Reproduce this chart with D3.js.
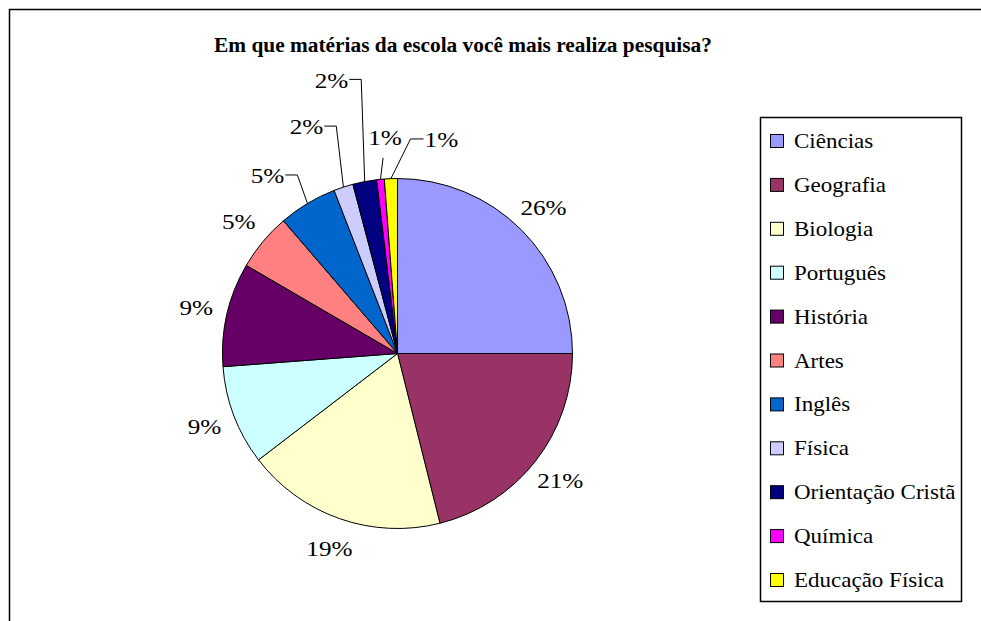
<!DOCTYPE html>
<html>
  <head>
    <meta charset="utf-8">
    <title>Pesquisa por materia</title>
    <script src="https://d3js.org/d3.v7.min.js"></script>
  </head>
  <body style="margin:0">
    <script type="text/javascript">
        // data (share of each slice, in %)
        const materias = ['Ciências', 'Geografia', 'Biologia', 'Português', 'História', 'Artes',
                          'Inglês', 'Física', 'Orientação Cristã', 'Química', 'Educação Física']
        const valores = [25.0, 21.1, 18.5, 9.2, 9.6, 5.3, 5.4, 1.8, 2.2, 0.7, 1.2]
        const rotulos = ['26%', '21%', '19%', '9%', '9%', '5%', '5%', '2%', '2%', '1%', '1%']
        const cores = ['#9999ff', '#993366', '#ffffcc', '#ccffff', '#660066', '#ff8080',
                       '#0066cc', '#ccccff', '#000080', '#ff00ff', '#ffff00']
        const titulo = 'Em que matérias da escola você mais realiza pesquisa?'

        // labels that were dragged away from the pie: [angle in degrees, radius]
        const rotuloMovido = [null, null, null, null, null, null,
                              [323.8, 220], [338.1, 244], [346.4, 281], [356.7, 216], [11.6, 218]]

        const width = 981,
              height = 621
        const cx = 397.5, cy = 353.5, r = 175
        const fonte = "'Liberation Serif'"

        const svg = d3.select('body').append('svg')
            .attr('width', width)
            .attr('height', height)

        // outer frame (only top and left edges fall inside the window)
        svg.append('rect')
            .attr('x', 9.5).attr('y', 9.5)
            .attr('width', 1200).attr('height', 1200)
            .attr('fill', 'none').attr('stroke', '#000').attr('stroke-width', 1.5)

        // stretch text horizontally around its anchor point
        function esticar(sel, x, y, k) {
            sel.attr('transform', 'translate(' + [x, y] + ') scale(' + k + ',1)')
        }

        const tit = svg.append('text')
            .attr('text-anchor', 'middle')
            .style('font-family', fonte)
            .style('font-size', '22px')
            .style('font-weight', 'bold')
            .text(titulo)
        esticar(tit, 463, 52, 498 / tit.node().getComputedTextLength())

        const color = d3.scaleOrdinal().domain(materias).range(cores)

        const pie = d3.pie().sort(null).value(d => d.valor)
        const dados = materias.map((m, i) => ({ nome: m, valor: valores[i], rotulo: rotulos[i], movido: rotuloMovido[i] }))
        const arcos = pie(dados)
        const arc = d3.arc().innerRadius(0).outerRadius(r)

        const g = svg.append('g').attr('transform', 'translate(' + [cx, cy] + ')')

        g.selectAll('path')
            .data(arcos)
            .enter()
            .append('path')
            .attr('d', arc)
            .attr('fill', d => color(d.data.nome))
            .attr('stroke', '#000')
            .attr('stroke-width', 1)

        const polar = (ang, rad) => [rad * Math.sin(ang), -rad * Math.cos(ang)]

        arcos.forEach(d => {
            const meio = (d.startAngle + d.endAngle) / 2
            let pos
            if (d.data.movido) {
                pos = polar(d.data.movido[0] * Math.PI / 180, d.data.movido[1])
            } else {
                pos = polar(meio, r * 1.18)
            }
            const t = g.append('text')
                .attr('dy', '0.35em')
                .attr('text-anchor', 'middle')
                .style('font-family', fonte)
                .style('font-size', '21px')
                .text(d.data.rotulo)
            const w = t.node().getComputedTextLength() * 1.2
            esticar(t, pos[0], pos[1], 1.2)

            if (d.data.movido) {
                const borda = polar(meio, r)
                let pts
                if (Math.abs(pos[0] - borda[0]) < 8) {
                    // label sits right above its slice: straight drop
                    pts = [[pos[0] - 2, pos[1] + 20], [borda[0], borda[1]]]
                } else if (pos[0] < borda[0]) {
                    const x0 = pos[0] + w / 2 + 1
                    pts = [[x0, pos[1] - 1], [x0 + 12, pos[1] - 1], borda]
                } else {
                    const x0 = pos[0] - w / 2 - 1
                    pts = [[x0, pos[1] - 1], [x0 - 13, pos[1] - 1], borda]
                }
                g.append('path')
                    .attr('d', d3.line()(pts))
                    .attr('fill', 'none')
                    .attr('stroke', '#000')
                    .attr('stroke-width', 1)
            }
        })

        // legend
        const lx = 760.5, ly = 117.5, lw = 201, lh = 484
        svg.append('clipPath').attr('id', 'clip-legenda')
            .append('rect').attr('x', lx).attr('y', ly).attr('width', lw).attr('height', lh)

        svg.append('rect')
            .attr('x', lx).attr('y', ly)
            .attr('width', lw).attr('height', lh)
            .attr('fill', '#fff').attr('stroke', '#000').attr('stroke-width', 1.5)

        const passo = 43.9
        const itens = svg.append('g').attr('clip-path', 'url(#clip-legenda)')
            .selectAll('g')
            .data(materias)
            .enter()
            .append('g')
            .attr('transform', (d, i) => 'translate(' + [0, 148 + i * passo] + ')')

        itens.append('rect')
            .attr('x', 770.5).attr('y', -13.5)
            .attr('width', 13).attr('height', 13)
            .attr('fill', d => color(d))
            .attr('stroke', '#000').attr('stroke-width', 1)

        itens.append('text')
            .style('font-family', fonte)
            .style('font-size', '20px')
            .text(d => d)
            .each(function() { esticar(d3.select(this), 794, 0, 1.15) })
    </script>
  </body>
</html>
